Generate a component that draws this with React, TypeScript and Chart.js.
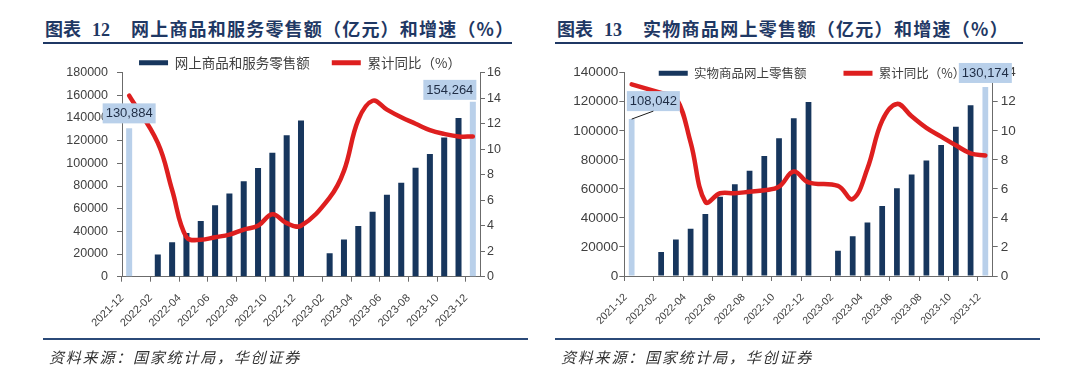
import React, { useEffect, useRef } from 'react';
import { Chart, registerables } from 'chart.js';

Chart.register(...registerables);

// ---------- data ----------
const categories = [
  '2021-12', '2022-01', '2022-02', '2022-03', '2022-04', '2022-05', '2022-06', '2022-07', '2022-08',
  '2022-09', '2022-10', '2022-11', '2022-12', '2023-01', '2023-02', '2023-03', '2023-04', '2023-05',
  '2023-06', '2023-07', '2023-08', '2023-09', '2023-10', '2023-11', '2023-12',
];

// 网上商品和服务零售额（亿元）
const onlineSales = [
  130884, null, 19500, 30300, 38500, 49200, 63000, 73500, 84300, 96000, 109400, 124800, 137800,
  null, 20600, 32900, 44700, 57400, 72400, 82900, 96200, 108200, 122900, 140000, 154264,
];
// 累计同比（%）
const onlineGrowth = [
  14.2, null, 10.5, 6.8, 3.1, 2.9, 3.1, 3.3, 3.7, 4.0, 4.9, 4.2, 4.0,
  null, 6.2, 8.3, 12.3, 13.8, 13.1, 12.5, 12.0, 11.5, 11.2, 11.0, 11.0,
];

// 实物商品网上零售额（亿元）
const physicalSales = [
  108042, null, 16500, 25200, 32600, 42700, 54600, 63100, 72500, 82600, 94800, 108600, 119900,
  null, 17400, 27400, 36800, 48200, 60500, 69900, 79500, 90200, 102700, 117600, 130174,
];
// 累计同比（%）
const physicalGrowth = [
  13.2, null, 12.6, 12.3, 9.2, 5.1, 5.7, 5.7, 5.8, 5.9, 6.15, 7.2, 6.45,
  null, 6.2, 5.3, 7.4, 10.7, 11.85, 11.0, 10.2, 9.6, 9.0, 8.45, 8.3,
];

const leftTicksA = [0, 20000, 40000, 60000, 80000, 100000, 120000, 140000, 160000, 180000];
const rightTicksA = [0, 2, 4, 6, 8, 10, 12, 14, 16];
const leftTicksB = [0, 20000, 40000, 60000, 80000, 100000, 120000, 140000];
const rightTicksB = [0, 2, 4, 6, 8, 10, 12, 14];

const titleNoA = '图表 12';
const titleA = '网上商品和服务零售额（亿元）和增速（%）';
const titleNoB = '图表 13';
const titleB = '实物商品网上零售额（亿元）和增速（%）';
const barLabelA = '网上商品和服务零售额';
const barLabelB = '实物商品网上零售额';
const lineLabel = '累计同比（%）';
const sourceText = '资料来源：国家统计局，华创证券';

// ---------- styles ----------
const NAVY = '#17365D';
const LIGHT = '#B9D0EA';
const RED = '#DE1F1F';
const AXIS = '#6B6B6B';
const TEXT = '#404040';
const TITLE = '#1F3864';
const CJK = '"Noto Sans CJK SC", "Noto Sans", sans-serif';
const NUM = '"Liberation Sans", Arial, sans-serif';

const valueLabelPlugin = {
  id: 'valueLabels',
  afterDatasetsDraw(chart: any, _args: any, opts: any) {
    const meta = chart.getDatasetMeta(0);
    const ds = chart.data.datasets[0];
    const ctx = chart.ctx;
    (opts.items || []).forEach((item: any) => {
      const el = meta.data[item.index];
      const v = ds.data[item.index];
      if (!el || v == null) return;
      const text = Number(v).toLocaleString('en-US');
      ctx.save();
      ctx.font = opts.font;
      const w = ctx.measureText(text).width + opts.padX * 2;
      const h = opts.boxH;
      const cx = el.x + item.dx;
      const bottom = el.y - item.gap;
      const top = bottom - h;
      ctx.fillStyle = opts.boxColor;
      ctx.fillRect(cx - w / 2, top, w, h);
      ctx.fillStyle = opts.textColor;
      ctx.textAlign = 'center';
      ctx.textBaseline = 'middle';
      ctx.fillText(text, cx, top + h / 2 + 0.5);
      if (item.leader) {
        ctx.strokeStyle = '#1a1a1a';
        ctx.lineWidth = 1;
        ctx.beginPath();
        ctx.moveTo(el.x, el.y);
        ctx.lineTo(cx, bottom);
        ctx.stroke();
      }
      ctx.restore();
    });
  },
};

// lets the legend sit closer to (or over) the plot area without being clipped
const legendFitPlugin = {
  id: 'legendFit',
  beforeUpdate(chart: any, _args: any, opts: any) {
    const lg = chart.legend;
    if (lg && !lg._patchedFit) {
      const orig = lg.fit;
      lg.fit = function () {
        orig.call(this);
        this.height = opts.height;
      };
      lg.draw = function () {
        if (this.options.display) this._draw();
      };
      lg._patchedFit = true;
    }
  },
};

type PanelCfg = {
  sales: (number | null)[];
  growth: (number | null)[];
  leftTicks: number[];
  rightTicks: number[];
  barLabel: string;
  width: number;
  height: number;
  leftW: number;
  rightW: number;
  xH: number;
  legendH: number;
  legendPad: number;
  legendFont: number;
  yFont: number;
  xFont: number;
  leftPad: number;
  rightPad: number;
  barPct: number;
  labelItems: any[];
  labelOffset: number;
  xPad: number;
};

function ChartCanvas({ cfg }: { cfg: PanelCfg }) {
  const ref = useRef<HTMLCanvasElement>(null);
  useEffect(() => {
    const n = categories.length;
    const chart = new Chart(ref.current as HTMLCanvasElement, {
      type: 'bar',
      data: {
        labels: categories,
        datasets: [
          {
            type: 'bar',
            label: cfg.barLabel,
            data: cfg.sales as any,
            yAxisID: 'y',
            order: 2,
            backgroundColor: (c: any) => (c.dataIndex === 0 || c.dataIndex === n - 1 ? LIGHT : NAVY),
            barPercentage: cfg.barPct,
            categoryPercentage: 1,
          },
          {
            type: 'line',
            label: lineLabel,
            data: cfg.growth as any,
            yAxisID: 'y1',
            order: 1,
            borderColor: RED,
            backgroundColor: RED,
            borderWidth: 4.5,
            pointRadius: 0,
            tension: 0.4,
            spanGaps: true,
            borderCapStyle: 'round',
            borderJoinStyle: 'round',
          } as any,
        ],
      },
      options: {
        responsive: false,
        animation: false,
        devicePixelRatio: 1,
        layout: { padding: 0 },
        plugins: {
          tooltip: { enabled: false },
          legend: {
            position: 'top',
            align: 'center',
            labels: {
              boxWidth: 29,
              boxHeight: 5,
              padding: cfg.legendPad,
              color: TEXT,
              font: { family: CJK, size: cfg.legendFont },
              sort: (a: any, b: any) => a.datasetIndex - b.datasetIndex,
              generateLabels: (chart: any) => {
                const items = (Chart as any).defaults.plugins.legend.labels.generateLabels(chart);
                return items.map((it: any) => ({
                  ...it,
                  fillStyle: it.datasetIndex === 0 ? NAVY : RED,
                  strokeStyle: 'rgba(0,0,0,0)',
                  lineWidth: 0,
                }));
              },
            },
          },
          legendFit: { height: cfg.legendH },
          valueLabels: {
            items: cfg.labelItems,
            font: `13px ${NUM}`,
            padX: 3,
            boxH: 20,
            boxColor: LIGHT,
            textColor: '#1F2D45',
          },
        } as any,
        scales: {
          x: {
            type: 'category',
            offset: true,
            afterFit: (s: any) => { s.height = cfg.xH; },
            grid: {
              offset: true,
              drawOnChartArea: false,
              drawTicks: true,
              tickLength: 5,
              color: (c: any) => (c.index % 2 === 0 ? AXIS : 'rgba(0,0,0,0)'),
            },
            border: { display: true, color: AXIS, width: 1 },
            ticks: {
              autoSkip: false,
              maxRotation: 45,
              minRotation: 45,
              padding: cfg.xPad,
              labelOffset: cfg.labelOffset,
              color: TEXT,
              font: { family: NUM, size: cfg.xFont },
              callback: function (this: any, value: any, index: number) {
                return index % 2 === 0 ? this.getLabelForValue(value) : '';
              },
            },
          },
          y: {
            position: 'left',
            min: cfg.leftTicks[0],
            max: cfg.leftTicks[cfg.leftTicks.length - 1],
            afterFit: (s: any) => { s.width = cfg.leftW; },
            grid: { drawOnChartArea: false, drawTicks: true, tickLength: 5, color: AXIS },
            border: { display: true, color: AXIS, width: 1 },
            ticks: {
              stepSize: cfg.leftTicks[1] - cfg.leftTicks[0],
              padding: cfg.leftPad,
              color: TEXT,
              font: { family: NUM, size: cfg.yFont },
              callback: (v: any) => String(v),
            },
          },
          y1: {
            position: 'right',
            min: cfg.rightTicks[0],
            max: cfg.rightTicks[cfg.rightTicks.length - 1],
            afterFit: (s: any) => { s.width = cfg.rightW; },
            grid: { drawOnChartArea: false, drawTicks: true, tickLength: 5, color: AXIS },
            border: { display: true, color: AXIS, width: 1 },
            ticks: {
              stepSize: cfg.rightTicks[1] - cfg.rightTicks[0],
              padding: cfg.rightPad,
              color: TEXT,
              font: { family: NUM, size: cfg.yFont },
              callback: (v: any) => String(v),
            },
          },
        },
      } as any,
      plugins: [valueLabelPlugin as any, legendFitPlugin as any],
    });
    return () => chart.destroy();
  }, [cfg]);
  return <canvas ref={ref} width={cfg.width} height={cfg.height} style={{ display: 'block' }} />;
}

const cfgA: PanelCfg = {
  sales: onlineSales,
  growth: onlineGrowth,
  leftTicks: leftTicksA,
  rightTicks: rightTicksA,
  barLabel: barLabelA,
  width: 480,
  height: 306,
  leftW: 62,
  rightW: 60,
  xH: 63.3,
  legendH: 38.7,
  legendPad: 22,
  legendFont: 13.5,
  yFont: 12.5,
  xFont: 11,
  leftPad: 9,
  rightPad: 2,
  barPct: 0.42,
  labelItems: [
    { index: 0, dx: 0, gap: 5 },
    { index: 24, dx: -23, gap: 2 },
  ],
  labelOffset: -7,
  xPad: 10,
};

const cfgB: PanelCfg = {
  sales: physicalSales,
  growth: physicalGrowth,
  leftTicks: leftTicksB,
  rightTicks: rightTicksB,
  barLabel: barLabelB,
  width: 504,
  height: 310,
  leftW: 64.3,
  rightW: 71.3,
  xH: 64,
  legendH: 42.7,
  legendPad: 37,
  legendFont: 12.5,
  yFont: 13.5,
  xFont: 10.5,
  leftPad: 1,
  rightPad: 3,
  barPct: 0.39,
  labelItems: [
    { index: 0, dx: 21.7, gap: 8, leader: true },
    { index: 24, dx: 0, gap: 4 },
  ],
  labelOffset: -6,
  xPad: 10,
};

function Panel({ x, cfg, no, title, lineW, bottomW, canvasX, canvasY, spacing }: any) {
  return (
    <>
      <div
        style={{
          position: 'absolute', left: x + 2, top: 18, whiteSpace: 'nowrap', color: TITLE,
          fontWeight: 700, fontSize: 18, lineHeight: '20px', fontFamily: CJK,
        }}
      >
        <span>{no.split(' ')[0]}</span>
        <span style={{ fontFamily: '"Liberation Serif", serif', marginLeft: 11 }}>{no.split(' ')[1]}</span>
        <span style={{ marginLeft: 21, letterSpacing: spacing }}>{title}</span>
      </div>
      <div style={{ position: 'absolute', left: x, top: 42, width: lineW, height: 2, background: TITLE }} />
      <div style={{ position: 'absolute', left: canvasX, top: canvasY }}>
        <ChartCanvas cfg={cfg} />
      </div>
      <div style={{ position: 'absolute', left: x, top: 338, width: bottomW, height: 2, background: '#2B4A78' }} />
      <div
        style={{
          position: 'absolute', left: x + 6, top: 348, whiteSpace: 'nowrap', color: '#333',
          fontSize: 15, lineHeight: '18px', fontStyle: 'italic', fontFamily: CJK, letterSpacing: 1.8,
        }}
      >
        {sourceText}
      </div>
    </>
  );
}

export default function App() {
  return (
    <div
      style={{
        position: 'fixed', left: 0, top: 0, width: 1080, height: 370, background: '#fff', overflow: 'hidden',
      }}
    >
      <Panel x={43} cfg={cfgA} no={titleNoA} title={titleA} lineW={469} bottomW={485} canvasX={60} canvasY={34} spacing={1.2} />
      <Panel x={555} cfg={cfgB} no={titleNoB} title={titleB} lineW={468} bottomW={485} canvasX={560} canvasY={30} spacing={1.3} />
    </div>
  );
}
